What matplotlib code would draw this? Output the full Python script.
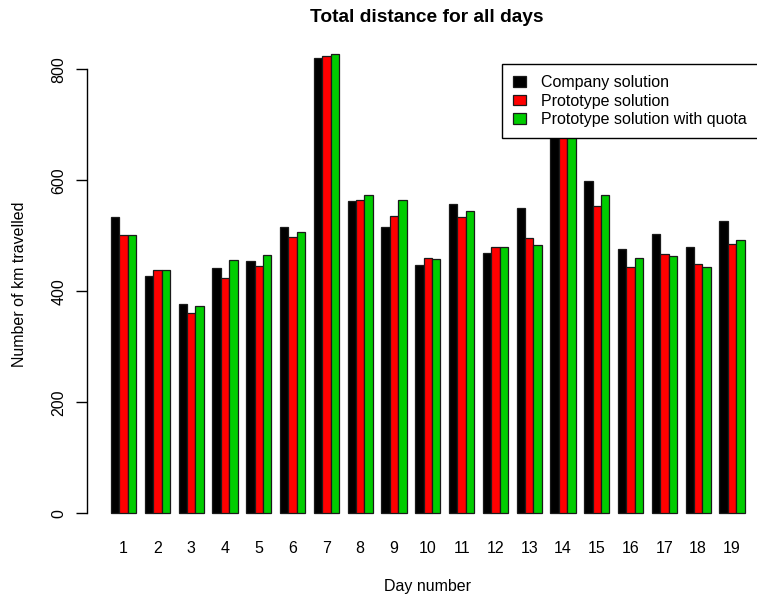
import matplotlib
matplotlib.use("Agg")
import matplotlib.pyplot as plt
import numpy as np

days = [str(d) for d in range(1, 20)]
company = [533, 428, 377, 442, 454, 515, 820, 563, 516, 447, 558, 469, 550, 700, 599, 476, 504, 479, 526]
prototype = [501, 439, 361, 424, 446, 497, 824, 565, 536, 460, 533, 480, 496, 690, 554, 444, 468, 449, 485]
proto_quota = [501, 439, 374, 456, 465, 507, 827, 574, 564, 458, 545, 480, 484, 695, 574, 460, 464, 444, 492]
series_names = ["Company solution", "Prototype solution", "Prototype solution with quota"]
colors = ["#000000", "#FF0000", "#00CD00"]

plt.rcParams['font.family'] = ['Liberation Sans', 'DejaVu Sans']
FS = 11.5

W, H = 757, 600
fig = plt.figure(figsize=(W / 100, H / 100), dpi=100)
left_px, right_px = 85.6, 770.0
top_px, bottom_px = 36.0, 531.6
ax = fig.add_axes([left_px / W, 1 - bottom_px / H, (right_px - left_px) / W, (bottom_px - top_px) / H])

n = len(days)
base = np.arange(n) * 4 + 1
handles = []
for j, (vals, c) in enumerate(zip([company, prototype, proto_quota], colors)):
    b = ax.bar(base + j, vals, width=1, align='edge', color=c, edgecolor='#1a1a1a', linewidth=0.9)
    handles.append(b)

ax.set_xlim(-2, 79)
ax.set_ylim(-33, 860)

for s in ['top', 'right', 'bottom']:
    ax.spines[s].set_visible(False)
ax.spines['left'].set_bounds(0, 800)
ax.spines['left'].set_position(('data', -1.85))
ax.spines['left'].set_linewidth(1.0)

ax.set_yticks([0, 200, 400, 600, 800])
ax.set_yticklabels(['0', '200', '400', '600', '800'], rotation=90, va='center', fontsize=FS)
ax.tick_params(axis='y', length=7.6, width=1.0, pad=7.0, colors='black')

ax.set_xticks(base + 1.5)
ax.set_xticklabels(days, fontsize=FS)
ax.tick_params(axis='x', length=0, pad=6.5)

fig.text(427 / W, 1 - 17 / H, "Total distance for all days", ha='center', va='center',
         fontsize=13.8, fontweight='bold')
fig.text(427.5 / W, 1 - 587 / H, "Day number", ha='center', va='center', fontsize=FS)
fig.text(20 / W, 1 - 284 / H, "Number of km travelled", ha='center', va='center',
         rotation=90, fontsize=FS)

leg = ax.legend(handles, series_names, loc='upper left',
                bbox_to_anchor=(502 / W, 1 - 64 / H), bbox_transform=fig.transFigure,
                fontsize=FS, frameon=True, fancybox=False, handlelength=0.8, handleheight=0.63,
                handletextpad=0.94, borderpad=0.7, labelspacing=0.22, borderaxespad=0)
leg.get_frame().set_edgecolor('black')
leg.get_frame().set_linewidth(1.0)
leg.get_frame().set_alpha(1)

fig.savefig("out.png", dpi=100)
